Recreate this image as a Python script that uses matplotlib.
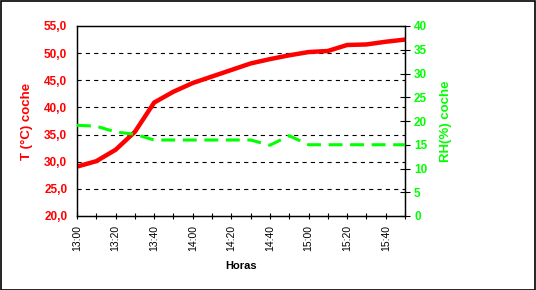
import matplotlib
matplotlib.use("Agg")
import matplotlib.pyplot as plt
from matplotlib.patches import Rectangle

plt.rcParams['font.family'] = ['Liberation Sans', 'DejaVu Sans']
plt.rcParams['lines.scale_dashes'] = False

minutes = [0, 10, 20, 30, 40, 50, 60, 70, 80, 90, 100, 110, 120, 130, 140, 150, 160, 170]
temp = [29.1, 30.1, 32.2, 35.5, 40.9, 42.9, 44.5, 45.7, 46.9, 48.1, 48.9, 49.6,
        50.2, 50.4, 51.5, 51.6, 52.1, 52.5]
rh = [19.1, 18.9, 17.7, 17.2, 16.0, 16.0, 16.0, 16.0, 16.0, 16.0, 14.9, 16.9,
      15.0, 15.0, 15.0, 15.0, 15.0, 15.0]
xtick_pos = list(range(0, 171, 10))
xlabel_pos = list(range(0, 161, 20))
xlabels = ["13:00", "13:20", "13:40", "14:00", "14:20", "14:40", "15:00", "15:20", "15:40"]
left_ticks = [20, 25, 30, 35, 40, 45, 50, 55]
right_ticks = [0, 5, 10, 15, 20, 25, 30, 35, 40]

RED = '#FF0000'
GREEN = '#00FF00'

fig = plt.figure(figsize=(5.36, 2.90), dpi=100)
ax = fig.add_axes([77/536, 1-216/290, (405-77)/536, (216-26)/290])
ax2 = ax.twinx()

ax.plot(minutes, temp, color=RED, lw=3.2, solid_joinstyle='miter', zorder=3)
ax2.plot(minutes, rh, color=GREEN, lw=2.2, dashes=(10, 5.5), zorder=3)

ax.set_xlim(0, 170)
ax.set_ylim(20, 55)
ax2.set_ylim(0, 40)

ax.set_yticks(left_ticks)
ax.set_yticklabels([f"{v:.1f}".replace('.', ',') for v in left_ticks],
                   color=RED, fontweight='bold', fontsize=8.5)
ax.tick_params(axis='y', length=0, pad=7)

for g in [25, 30, 35, 40, 45, 50]:
    ax.axhline(g, color='black', lw=0.8, dashes=(3, 3), zorder=1)

ax.set_xticks(xtick_pos, minor=True)
ax.set_xticks(xlabel_pos)
ax.set_xticklabels(xlabels, rotation=90, fontsize=7.5)
ax.tick_params(axis='x', which='both', direction='inout', length=5, width=0.8, pad=4)

ax2.set_yticks(right_ticks)
ax2.set_yticklabels([str(v) for v in right_ticks], color=GREEN,
                    fontweight='bold', fontsize=8.5)
ax2.tick_params(axis='y', direction='inout', length=7, width=0.8, pad=3)

for a in (ax, ax2):
    for s in a.spines.values():
        s.set_linewidth(0.9)
        s.set_color('black')

ax.set_ylabel("T (°C) coche", color=RED, fontweight='bold', fontsize=9.5, labelpad=8)
ax2.set_ylabel("RH(%) coche", color=GREEN, fontweight='bold', fontsize=9.5, labelpad=9)
ax.set_xlabel("Horas", fontweight='bold', fontsize=8, labelpad=7)

fig.patches.append(Rectangle((0.001, 0.001), 0.997, 0.996, transform=fig.transFigure,
                             fill=False, edgecolor='black', lw=1.2))

fig.savefig("out.png", dpi=100)
